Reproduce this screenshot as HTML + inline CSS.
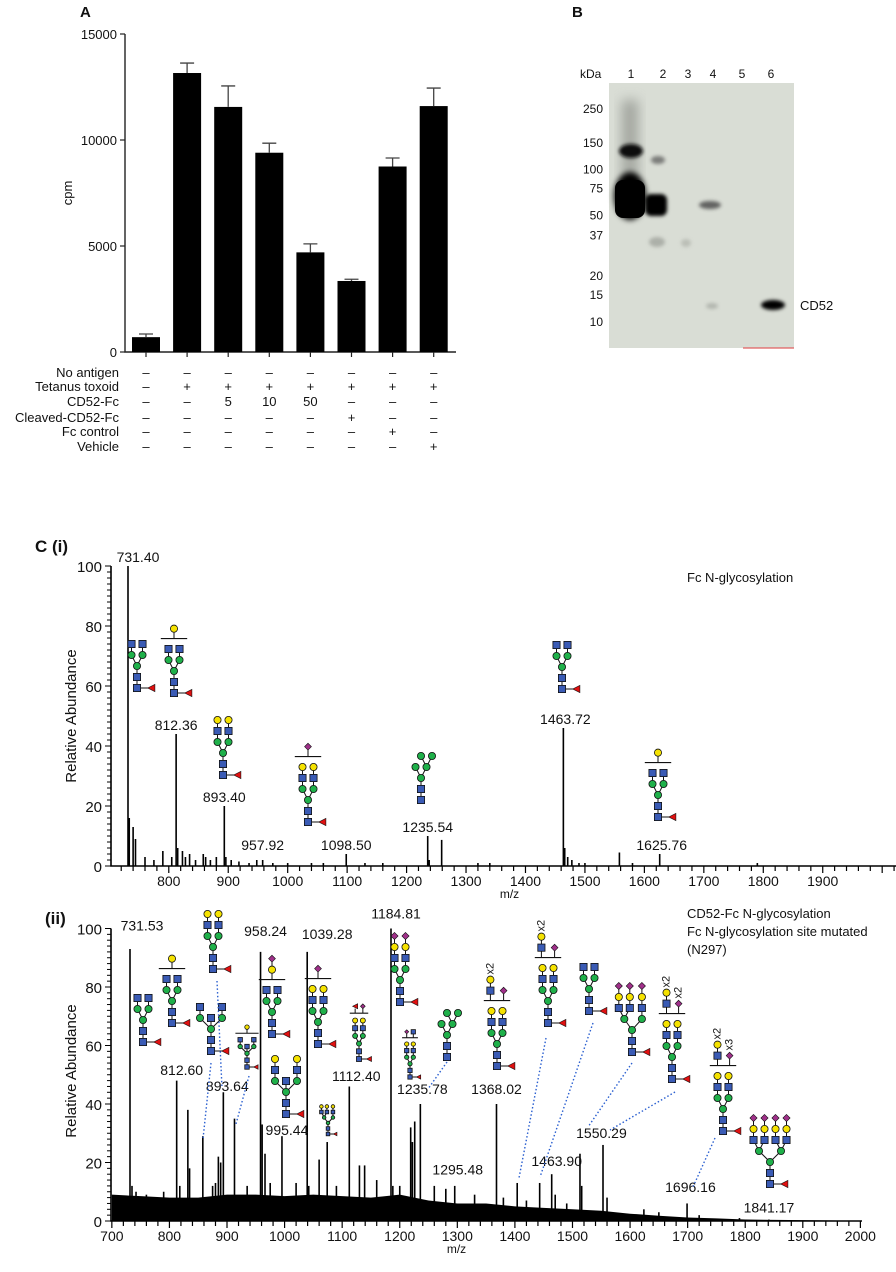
<!DOCTYPE html>
<html><head><meta charset="utf-8"><style>
html,body{margin:0;padding:0;background:#fff;}
svg{display:block;font-family:"Liberation Sans",Arial,sans-serif;}
</style></head><body>
<svg id="fig" width="896" height="1272" viewBox="0 0 896 1272" xmlns="http://www.w3.org/2000/svg">
<defs>
<filter id="blur3" x="-50%" y="-50%" width="200%" height="200%"><feGaussianBlur stdDeviation="3"/></filter>
<filter id="blur2" x="-50%" y="-50%" width="200%" height="200%"><feGaussianBlur stdDeviation="1.8"/></filter>
<filter id="blur6" x="-50%" y="-50%" width="200%" height="200%"><feGaussianBlur stdDeviation="6"/></filter>
</defs>
<g id="panelA"></g>
<g id="panelB"></g>
<g id="spec1"></g>
<g id="spec2"></g>
<g id="glycans"></g>
</svg>
<script>
// ---------- Panel A data ----------
const barValues = [700, 13160, 11560, 9400, 4700, 3350, 8750, 11600];
const barErrors = [150, 470, 990, 450, 400, 80, 400, 850];
const yTicksA = [0, 5000, 10000, 15000];
const tableRows = ["No antigen","Tetanus toxoid","CD52-Fc","Cleaved-CD52-Fc","Fc control","Vehicle"];
const tableNoAntigen = ["–","–","–","–","–","–","–","–"];
const tableTetanus = ["–","+","+","+","+","+","+","+"];
const tableCD52 = ["–","–","5","10","50","–","–","–"];
const tableCleaved = ["–","–","–","–","–","+","–","–"];
const tableFc = ["–","–","–","–","–","–","+","–"];
const tableVehicle = ["–","–","–","–","–","–","–","+"];

// ---------- Panel B data ----------
const laneLabels = ["1","2","3","4","5","6"];
const markerLabels = ["250","150","100","75","50","37","20","15","10"];
const markerKDa = [250,150,100,75,50,37,20,15,10];

// ---------- Spectrum (i) data ----------
const s1Mz = [731.4,733.5,740,744,760,775,790,805,812.36,815,823,828,835,845,858,862,870,880,893.4,896,905,918,935,948,957.92,975,1000,1040,1060,1098.5,1130,1160,1235.54,1238,1259,1320,1340,1463.72,1466,1471,1478,1490,1500,1558,1580,1625.76,1790];
const s1Int = [100,16,13,9,3,2,5,3,44,6,5,3,4,2,4,3,2,3,20,3,2,1.5,1,2,2,1,1,1,1,4,1,1,10,2,8.7,1,1,46,6,3,2,1,1,4.5,1,4,1];
const s1Labels = ["731.40","812.36","893.40","957.92","1098.50","1235.54","1463.72","1625.76"];
const s1LabelMz = [731.4,812.36,893.4,957.92,1098.5,1235.54,1463.72,1625.76];
const s1LabelY = [100,44,20,4,4,10,46,4];
const s1XTicks = [800,900,1000,1100,1200,1300,1400,1500,1600,1700,1800,1900];
const s1YTicks = [0,20,40,60,80,100];

// ---------- Spectrum (ii) data ----------
const s2Mz = [731.53,735,742,760,790,812.6,818,832,835,858,875,880,885,889,893.64,913,935,958.24,961,966,975,995.44,1020,1039.28,1042,1060,1074,1090,1112.4,1130,1139,1160,1184.81,1188,1200,1219,1222,1226,1235.78,1260,1280,1295.48,1330,1368.02,1380,1404,1420,1443,1463.9,1470,1490,1513,1516,1553,1560,1624,1650,1699,1720,1790,1841.17];
const s2Int = [93,12,10,9,10,48,12,38,18,29,12,13,22,20,44,35,12,92,33,23,13,29,13,92,12,21,27,12,46,19,19,14,100,12,12,32,27,34,40,12,11,12,9,40,8,13,7,13,16,9,6,23,12,26,8,4,3,6,2,1,0.5];
const s2NoiseMz = [700,750,800,850,900,950,1000,1050,1100,1150,1200,1250,1300,1350,1400,1450,1500,1550,1600,1650,1700,1750,1800,1900,2000];
const s2NoiseInt = [9,8.5,8,8,9,9,8.5,9,8.5,8,9,7,6,6,5,4.5,4,3.5,2.5,1.8,1.2,0.9,0.5,0.3,0.1];
const s2Labels = ["731.53","812.60","893.64","958.24","995.44","1039.28","1112.40","1184.81","1235.78","1295.48","1368.02","1463.90","1550.29","1696.16","1841.17"];
const s2LabelX = [731.53,812.6,893.64,958.24,995.44,1039.28,1112.4,1184.81,1235.78,1295.48,1368.02,1463.9,1550.29,1696.16,1841.17];
const s2LabelY = [98,48.5,43,96,28,95,46.5,102,42,14.5,42,17.5,27,8.5,1.5];
const s2XTicks = [700,800,900,1000,1100,1200,1300,1400,1500,1600,1700,1800,1900,2000];
const s2YTicks = [0,20,40,60,80,100];

const NS = "http://www.w3.org/2000/svg";
function mk(parent, tag, attrs, text){
  const e = document.createElementNS(NS, tag);
  for (const k in attrs) e.setAttribute(k, attrs[k]);
  if (text !== undefined) e.textContent = text;
  parent.appendChild(e);
  return e;
}
function txt(parent, x, y, s, size, anchor, name, extra){
  const t = mk(parent, "text", Object.assign({x:x, y:y, "font-size":size, "text-anchor":anchor||"start", fill:"#111"}, extra||{}), s);
  
  
  return t;
}

// ================= PANEL A =================
(function(){
  const g = document.getElementById("panelA");
  const y0 = 352, yTop = 34, vmax = 15000, ax = 125;
  const yA = v => y0 - v / vmax * (y0 - yTop);
  const xA = i => 146 + i * 41.1;
  txt(g, 80, 17, "A", 15, "start", "panel-a-label", {"font-weight":"bold"});
  const axis = mk(g, "path", {d:`M${ax} ${yTop}V${y0}H456`, stroke:"#222", "stroke-width":1.4, fill:"none"});
  
  
  yTicksA.forEach(v => {
    mk(g, "line", {x1:ax-5, x2:ax, y1:yA(v), y2:yA(v), stroke:"#222", "stroke-width":1.2});
    txt(g, ax-8, yA(v)+5, String(v), 13, "end", "y-tick-label");
  });
  txt(g, 0, 0, "cpm", 13, "middle", "y-axis-title", {transform:"translate(72,193) rotate(-90)"});
  barValues.forEach((v, i) => {
    const cx = xA(i), w = 28;
    const b = mk(g, "rect", {x:cx-w/2, y:yA(v), width:w, height:y0-yA(v), fill:"#000"});
    
    
    const ye = yA(v + barErrors[i]);
    const eb = mk(g, "path", {d:`M${cx} ${yA(v)}V${ye}M${cx-7} ${ye}H${cx+7}`, stroke:"#444", "stroke-width":1.3, fill:"none"});
    
    
    mk(g, "line", {x1:cx, x2:cx, y1:y0, y2:y0+5, stroke:"#222", "stroke-width":1.2});
  });
  const cols = [tableNoAntigen, tableTetanus, tableCD52, tableCleaved, tableFc, tableVehicle];
  const rowY = [377, 391, 406, 422, 436, 451];
  tableRows.forEach((r, ri) => {
    txt(g, 119, rowY[ri], r, 13, "end", "table-row-label");
    cols[ri].forEach((s, ci) => {
      txt(g, xA(ci), rowY[ri], s, 13, "middle", "table-cell");
    });
  });
})();

// ================= PANEL B =================
(function(){
  const g = document.getElementById("panelB");
  txt(g, 572, 17, "B", 15, "start", "panel-b-label", {"font-weight":"bold"});
  const L = 609, R = 794, T = 83, B = 348;
  const bg = mk(g, "rect", {x:L, y:T, width:R-L, height:B-T, fill:"#d9ddd5"});
  
  
  mk(g, "line", {x1:743, x2:794, y1:348, y2:348, stroke:"#e06060", "stroke-width":1.2});
  txt(g, 580, 78, "kDa", 12, "start", "kda-label");
  const laneX = [631, 663, 688, 713, 742, 771];
  laneLabels.forEach((l, i) => txt(g, laneX[i], 78, l, 12, "middle", "lane-label"));
  const kToY = k => 321 - (Math.log(k) - Math.log(10)) / (Math.log(250) - Math.log(10)) * (321 - 108);
  markerLabels.forEach((m, i) => txt(g, 603, kToY(markerKDa[i]) + 5, m, 12, "end", "marker-label"));
  txt(g, 800, 310, "CD52", 13, "start", "cd52-label");
  const bands = mk(g, "g", {});
  
  
  mk(bands, "rect", {x:622, y:100, width:16, height:80, fill:"#7d807a", opacity:0.6, filter:"url(#blur6)"});
  mk(bands, "ellipse", {cx:631, cy:151, rx:12, ry:7, fill:"#111", filter:"url(#blur2)"});
  mk(bands, "ellipse", {cx:630, cy:196, rx:16, ry:24, fill:"#050505", filter:"url(#blur3)"});
  mk(bands, "rect", {x:615, y:180, width:30, height:38, rx:8, fill:"#000"});
  mk(bands, "ellipse", {cx:658, cy:160, rx:7, ry:4, fill:"#555", opacity:0.7, filter:"url(#blur2)"});
  mk(bands, "rect", {x:645, y:194, width:22, height:22, rx:6, fill:"#050505", filter:"url(#blur2)"});
  mk(bands, "ellipse", {cx:657, cy:242, rx:8, ry:5, fill:"#9a9d96", opacity:0.7, filter:"url(#blur2)"});
  mk(bands, "ellipse", {cx:686, cy:243, rx:5, ry:4, fill:"#a7aaa3", opacity:0.6, filter:"url(#blur2)"});
  mk(bands, "ellipse", {cx:710, cy:205, rx:11, ry:4, fill:"#444", opacity:0.8, filter:"url(#blur2)"});
  mk(bands, "ellipse", {cx:712, cy:306, rx:6, ry:3, fill:"#9a9d96", opacity:0.6, filter:"url(#blur2)"});
  mk(bands, "ellipse", {cx:773, cy:305, rx:12, ry:5, fill:"#050505", filter:"url(#blur2)"});
})();

// ================= SPECTRA =================
function drawSpectrum(gId, cfg){
  const g = document.getElementById(gId);
  const xS = v => cfg.xRef + (v - cfg.vRef) * cfg.k;
  const yS = v => cfg.y0 - v / 100 * cfg.h;
  if (cfg.noiseMz){
    let d = `M${xS(cfg.noiseMz[0])} ${cfg.y0}`;
    cfg.noiseMz.forEach((m, i) => { d += `L${xS(m)} ${yS(cfg.noiseInt[i])}`; });
    d += `L${xS(cfg.noiseMz[cfg.noiseMz.length-1])} ${cfg.y0}Z`;
    const n = mk(g, "path", {d:d, fill:"#000"});
    
    
  }
  cfg.mz.forEach((m, i) => {
    const p = mk(g, "line", {x1:xS(m), x2:xS(m), y1:cfg.y0, y2:yS(cfg.int[i]), stroke:"#000", "stroke-width":1.6});
    
    
  });
  const ax = mk(g, "path", {d:`M${cfg.axX} ${yS(100)}V${cfg.y0}H${cfg.axR}`, stroke:"#000", "stroke-width":1.6, fill:"none"});
  
  
  for (let v = 0; v <= 100; v += 2){
    const big = v % 20 === 0;
    mk(g, "line", {x1:cfg.axX - (big?6:4), x2:cfg.axX, y1:yS(v), y2:yS(v), stroke:"#000", "stroke-width":1});
  }
  cfg.yTicks.forEach(v => txt(g, cfg.axX - 9, yS(v) + 6, String(v), 15, "end", "y-tick-label"));
  const vStart = Math.ceil(cfg.vStart / 20) * 20;
  for (let v = vStart; xS(v) <= cfg.axR; v += 20){
    const big = v % 100 === 0;
    mk(g, "line", {x1:xS(v), x2:xS(v), y1:cfg.y0, y2:cfg.y0 + (big?7:5), stroke:"#000", "stroke-width":1.2});
  }
  cfg.xTicks.forEach(v => txt(g, xS(v), cfg.y0 + 20, String(v), 14, "middle", "x-tick-label"));
  txt(g, (cfg.axX + cfg.axR)/2 - 30, cfg.y0 + 32, "m/z", 12, "middle", "x-axis-title");
  txt(g, 0, 0, "Relative Abundance", 15, "middle", "y-axis-title", {transform:`translate(76,${cfg.y0 - 150}) rotate(-90)`});
  cfg.labels.forEach((s, i) => txt(g, xS(cfg.labelX[i]) + (cfg.labelDx[i]||0), yS(cfg.labelY[i]) - 4, s, 14, "middle", "peak-label"));
  return {xS, yS};
}
drawSpectrum("spec1", {xRef:128, vRef:731.4, k:0.5945, y0:866, h:300, axX:111, axR:968, vStart:703,
  mz:s1Mz, int:s1Int, xTicks:s1XTicks, yTicks:s1YTicks, labels:s1Labels, labelX:s1LabelMz, labelY:s1LabelY,
  labelDx:[10,0,0,0,0,0,2,2]});
drawSpectrum("spec2", {xRef:130, vRef:731.53, k:0.5758, y0:1221, h:292.5, axX:111, axR:862, vStart:700,
  mz:s2Mz, int:s2Int, noiseMz:s2NoiseMz, noiseInt:s2NoiseInt, xTicks:s2XTicks, yTicks:s2YTicks, labels:s2Labels, labelX:s2LabelX, labelY:s2LabelY,
  labelDx:[12,5,4,5,5,20,7,5,2,3,0,5,0,5,0]});

(function(){
  const g = document.getElementById("spec1");
  txt(g, 35, 552, "C (i)", 17, "start", "panel-c-label", {"font-weight":"bold"});
  txt(g, 687, 582, "Fc N-glycosylation", 13, "start", "spectrum-i-title");
  const g2 = document.getElementById("spec2");
  txt(g2, 45, 924, "(ii)", 17, "start", "panel-c-ii-label", {"font-weight":"bold"});
  txt(g2, 687, 918, "CD52-Fc N-glycosylation", 13, "start", "spectrum-ii-title");
  txt(g2, 687, 936, "Fc N-glycosylation site mutated", 13, "start", "spectrum-ii-subtitle");
  txt(g2, 687, 954, "(N297)", 13, "start", "spectrum-ii-note");
})();

// ================= GLYCANS =================
const GL = document.getElementById("glycans");
const COL = {G:"#3a5bb5", L:"#f5e200", M:"#1fb04a", S:"#a0308a"};
function res(p, t, x, y, r){
  if (t === "G") mk(p, "rect", {x:x-r, y:y-r, width:2*r, height:2*r, fill:COL.G, stroke:"#111", "stroke-width":0.8});
  else if (t === "S") mk(p, "path", {d:`M${x} ${y-r}L${x+r} ${y}L${x} ${y+r}L${x-r} ${y}Z`, fill:COL.S, stroke:"#111", "stroke-width":0.6});
  else if (t === "F") mk(p, "path", {d:`M${x-r} ${y}L${x+r} ${y-r}L${x+r} ${y+r}Z`, fill:"#e01010", stroke:"#111", "stroke-width":0.6});
  else mk(p, "circle", {cx:x, cy:y, r:r, fill:COL[t], stroke:"#111", "stroke-width":0.8});
}
function ln(p, x1, y1, x2, y2, w){ mk(p, "line", {x1:x1, y1:y1, x2:x2, y2:y2, stroke:"#111", "stroke-width":w||1}); }
function glycan(x, y, o){
  const p = mk(GL, "g", {});
  
  
  const s = 11 * (o.k||1), r = 3.6 * (o.k||1);
  const lines = mk(p, "g", {}); const nodes = mk(p, "g", {});
  const n = o.n || 2;
  let antX = [], manX = [], manFor = [];
  const sp = o.sp !== undefined ? o.sp : 0.5;
  if (n === 2){ manX = [-sp, sp]; antX = [-sp, sp]; manFor = [0, 1]; }
  else if (n === 3){ manX = [-0.7, 0.9]; antX = [-1.2, -0.2, 0.9]; manFor = [0, 0, 1]; }
  else { manX = [-1, 1]; antX = [-1.5, -0.5, 0.5, 1.5]; manFor = [0, 0, 1, 1]; }
  ln(lines, x, y, x, y-2*s);
  if (o.fuc){ ln(lines, x, y, x+1.3*s, y); res(nodes, "F", x+1.3*s, y, r); }
  res(nodes, "G", x, y, r); res(nodes, "G", x, y-s, r); res(nodes, "M", x, y-2*s, r);
  if (o.bisect){ ln(lines, x, y-2*s, x, y-3*s); res(nodes, "G", x, y-3*s, r); }
  manX.forEach(mx => { ln(lines, x, y-2*s, x+mx*s, y-3*s); res(nodes, "M", x+mx*s, y-3*s, r); });
  const ant = o.ant || ["G"];
  let topY = y - 3*s;
  antX.forEach((axv, i) => {
    const mx = manX[manFor[i]];
    let py = y - 3*s, px = x + mx*s;
    ant.forEach((t, j) => {
      const ny = y - (4+j)*s, nx = x + axv*s;
      ln(lines, px, py, nx, ny);
      res(nodes, t, nx, ny, r);
      px = nx; py = ny; topY = Math.min(topY, ny);
    });
  });
  if (o.man5){
    const b = x + 0.5*s;
    ln(lines, b, y-3*s, b-0.5*s, y-4*s); ln(lines, b, y-3*s, b+0.5*s, y-4*s);
    res(nodes, "M", b-0.5*s, y-4*s, r); res(nodes, "M", b+0.5*s, y-4*s, r);
    topY = y - 4*s;
  }
  if (o.bracket){
    const by = topY - 0.95*s, hw = (Math.max(...antX.map(Math.abs)) + 0.7) * s;
    ln(lines, x-hw, by, x+hw, by, 1.1);
    o.bracket.forEach(grp => {
      const gx = x + grp.dx*s;
      ln(lines, gx, by, gx, by - 0.6*s);
      grp.st.forEach((t, j) => {
        const gy = by - (0.9 + j*1.0)*s;
        if (j>0) ln(lines, gx, gy, gx, gy + s);
        res(nodes, t, gx, gy, r*(t==="S"?0.95:1));
      });
      if (grp.mult) txt(p, 0, 0, grp.mult, 11*(o.k||1), "middle", "multiplier-label",
        {transform:`translate(${gx+3},${by - (0.9 + grp.st.length)*s}) rotate(-90)`});
    });
  }
}
glycan(137, 688, {fuc:true});
glycan(174, 693, {fuc:true, bracket:[{dx:0, st:["L"]}]});
glycan(223, 775, {fuc:true, ant:["G","L"]});
glycan(308, 822, {fuc:true, ant:["G","L"], bracket:[{dx:0, st:["S"]}]});
glycan(421, 800, {man5:true, n:2, ant:[], sp:0.5});
glycan(562, 689, {fuc:true});
glycan(658, 817, {fuc:true, bracket:[{dx:0, st:["L"]}]});
glycan(143, 1042, {fuc:true});
glycan(172, 1023, {fuc:true, bracket:[{dx:0, st:["L"]}]});
glycan(213, 969, {fuc:true, ant:["G","L"]});
glycan(211, 1051, {fuc:true, bisect:true, sp:1});
glycan(247, 1067, {fuc:true, bisect:true, sp:1, k:0.62, bracket:[{dx:0, st:["L"]}]});
glycan(272, 1034, {fuc:true, bracket:[{dx:0, st:["L","S"]}]});
glycan(286, 1114, {fuc:true, bisect:true, sp:1, ant:["G","L"]});
glycan(318, 1044, {fuc:true, ant:["G","L"], bracket:[{dx:0, st:["S"]}]});
glycan(328, 1134, {fuc:true, n:3, ant:["G","L"], k:0.5});
glycan(359, 1059, {fuc:true, ant:["G","L"], k:0.7, bracket:[{dx:-0.5, st:["F"]},{dx:0.5, st:["S"]}]});
glycan(400, 1002, {fuc:true, ant:["G","L","S"]});
glycan(410, 1077, {fuc:true, ant:["G","L"], k:0.6, bracket:[{dx:-0.5, st:["S"]},{dx:0.5, st:["G"]}]});
glycan(447, 1057, {man5:true, n:2, ant:[]});
glycan(497, 1066, {fuc:true, ant:["G","L"], bracket:[{dx:-0.6, st:["G","L"], mult:"x2"},{dx:0.6, st:["S"]}]});
glycan(548, 1023, {fuc:true, ant:["G","L"], bracket:[{dx:-0.6, st:["G","L"], mult:"x2"},{dx:0.6, st:["S"]}]});
glycan(589, 1011, {fuc:true});
glycan(632, 1052, {fuc:true, n:3, ant:["G","L","S"]});
glycan(672, 1079, {fuc:true, ant:["G","L"], bracket:[{dx:-0.5, st:["G","L"], mult:"x2"},{dx:0.6, st:["S"], mult:"x2"}]});
glycan(723, 1131, {fuc:true, ant:["G","L"], bracket:[{dx:-0.5, st:["G","L"], mult:"x2"},{dx:0.6, st:["S"], mult:"x3"}]});
glycan(770, 1184, {fuc:true, n:4, ant:["G","L","S"]});
const dots = [[217,981,222,1088],[211,1063,203,1139],[249,1076,236,1124],[447,1062,428,1089],
  [546,1038,519,1178],[593,1023,540,1177],[632,1063,588,1127],[675,1092,610,1130],[715,1138,693,1187]];
dots.forEach(d => {
  const l = mk(GL, "line", {x1:d[0], y1:d[1], x2:d[2], y2:d[3], stroke:"#2a5fd0", "stroke-width":1.4, "stroke-dasharray":"1.5,2.2"});
  
  
});
</script>
</body></html>
